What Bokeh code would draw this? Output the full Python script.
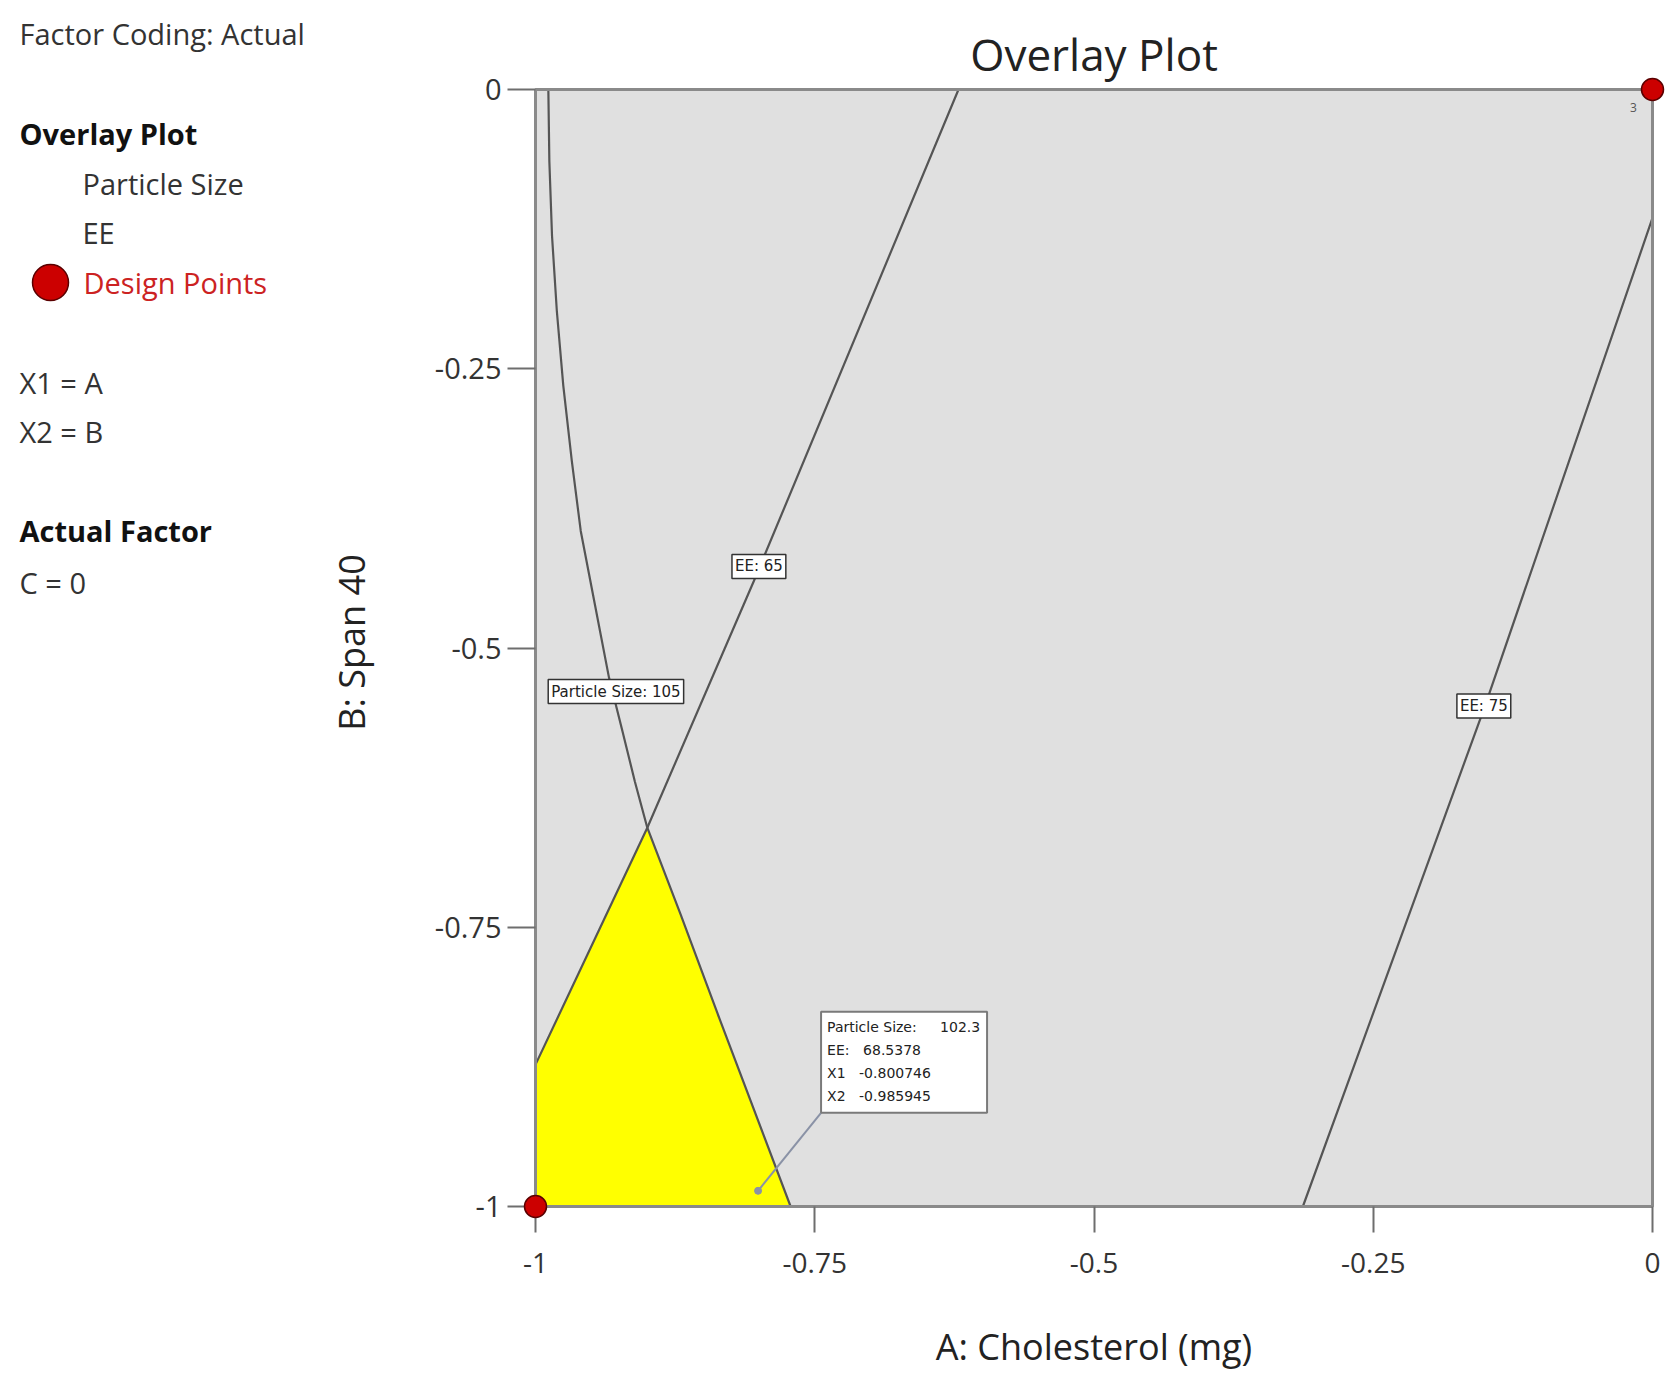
import math
from bokeh.plotting import figure
from bokeh.layouts import row
from bokeh.models import Range1d, FixedTicker, Label
from bokeh.embed import file_html
from bokeh.resources import INLINE
from bokeh.core.properties import value

# ---------------- data ----------------
x_ticks = [-1, -0.75, -0.5, -0.25, 0]
x_tick_labels = ["-1", "-0.75", "-0.5", "-0.25", "0"]
y_ticks = [-1, -0.75, -0.5, -0.25, 0]
y_tick_labels = ["-1", "-0.75", "-0.5", "-0.25", "0"]

# Particle Size = 105 contour (A, B)
ps105_x = [-0.9885, -0.9876, -0.9852, -0.9809, -0.9751, -0.9675, -0.9595, -0.9467,
           -0.9342, -0.9222, -0.9110, -0.8999, -0.8701, -0.8367, -0.7716]
ps105_y = [0.0, -0.0642, -0.1312, -0.1983, -0.2653, -0.3324, -0.3952, -0.4617,
           -0.5265, -0.5743, -0.6197, -0.6609, -0.7385, -0.8281, -1.0]
# EE = 65 contour
ee65_x = [-1.0, -0.8999, -0.8045, -0.6213]
ee65_y = [-0.873, -0.6609, -0.440, 0.0]
# EE = 75 contour
ee75_x = [-0.313, -0.150, 0.0]
ee75_y = [-1.0, -0.552, -0.115]
# index of the PS105 / EE65 crossing in each list
ps_cross = 11
ee_cross = 1

contour_label_x = [-0.928, -0.800, -0.151]
contour_label_y = [-0.539, -0.427, -0.552]
contour_label_text = ["Particle Size: 105", "EE: 65", "EE: 75"]

design_x = [-1.0, 0.0]
design_y = [-1.0, 0.0]
design_run = ["", "3"]

flag_x1 = -0.800746
flag_x2 = -0.985945
flag_ps = 102.3
flag_ee = 68.5378

FONT = "Open Sans"

# ---------------- layout constants (px) ----------------
H = 1388
LW = 380                   # width of left info panel
SC = 1117                  # px per data unit
PAD = 14                   # white strip around the plotting square
TOPX = 79                  # extra frame above the square (title area)
ML, MR, MT = 141, 4, 10
FH = TOPX + SC + PAD       # frame height
MB = H - MT - FH
W2 = ML + MR + SC + 2 * PAD

p = figure(width=W2, height=H,
           x_range=Range1d(x_ticks[0] - PAD / SC, x_ticks[-1] + PAD / SC),
           y_range=Range1d(y_ticks[0] - PAD / SC, y_ticks[-1] + TOPX / SC),
           output_backend="svg", toolbar_location=None,
           min_border_left=ML, min_border_right=MR, min_border_top=MT, min_border_bottom=MB)
p.background_fill_color = "white"
p.border_fill_color = "white"
p.outline_line_color = None
p.grid.visible = False

for ax, ticks, labs, tout in ((p.xaxis, x_ticks, x_tick_labels, 12), (p.yaxis, y_ticks, y_tick_labels, 14)):
    ax.ticker = FixedTicker(ticks=ticks)
    ax.major_label_overrides = {t: s for t, s in zip(ticks, labs)}
    ax.major_tick_out = tout
    ax.major_tick_in = PAD
    ax.minor_tick_line_color = None
    ax.major_tick_line_color = "#6e6e6e"
    ax.major_tick_line_width = 2
    ax.axis_line_color = None
    ax.major_label_text_font = FONT
    ax.major_label_text_font_size = "28px"
    ax.major_label_text_color = "#333333"
    ax.axis_label_text_font = FONT
    ax.axis_label_text_font_size = "36px"
    ax.axis_label_text_font_style = "normal"
    ax.axis_label_text_color = "#222222"

p.yaxis.major_label_text_font_size = "29px"
p.xaxis.axis_label = "A: Cholesterol (mg)"
p.xaxis.major_label_standoff = 20
p.xaxis.axis_label_standoff = 46
p.yaxis.major_label_standoff = 6

# plotting square background
p.quad(left=[x_ticks[0]], right=[x_ticks[-1]], bottom=[y_ticks[0]], top=[y_ticks[-1]],
       fill_color="#e0e0e0", line_color=None)

# feasible (yellow) region
poly_x = [x_ticks[0]] + ee65_x[:ee_cross + 1] + ps105_x[ps_cross:]
poly_y = [y_ticks[0]] + ee65_y[:ee_cross + 1] + ps105_y[ps_cross:]
p.patch(poly_x, poly_y, fill_color="#ffff00", line_color=None)

# contours
for xs, ys in ((ps105_x, ps105_y), (ee65_x, ee65_y), (ee75_x, ee75_y)):
    p.line(xs, ys, line_color="#555555", line_width=2.2)

# frame of the plotting square
p.quad(left=[x_ticks[0]], right=[x_ticks[-1]], bottom=[y_ticks[0]], top=[y_ticks[-1]],
       fill_color=None, line_color="#8a8a8a", line_width=3)

# contour labels
for lx, ly, lt in zip(contour_label_x, contour_label_y, contour_label_text):
    p.add_layout(Label(x=lx, y=ly, text=lt, text_align="center", text_baseline="middle",
                       text_font="DejaVu Sans", text_font_size="15px", text_color="#222222",
                       background_fill_color="white", border_line_color="#333333",
                       border_line_width=1.5, padding=3))

# flag annotation
box_l = flag_x1 + 63 / SC
box_r = flag_x1 + 229 / SC
box_t = flag_x2 + 179 / SC
box_b = flag_x2 + 78 / SC
p.line([flag_x1, box_l], [flag_x2, box_b], line_color="#8a92a6", line_width=2)
p.scatter([flag_x1], [flag_x2], size=7, color="#8a92a6")
p.quad(left=[box_l], right=[box_r], top=[box_t], bottom=[box_b],
       fill_color="white", line_color="#7a7a7a", line_width=2)
flag_names = ["Particle Size:", "EE:", "X1", "X2"]
flag_vals = [f"{flag_ps:g}", f"{flag_ee:g}", f"{flag_x1:g}", f"{flag_x2:g}"]
val_x = [119, 42, 38, 38]
for i, (nm, vv) in enumerate(zip(flag_names, flag_vals)):
    p.text([box_l], [box_t], text=[nm], x_offset=6, y_offset=15 + 23 * i,
           text_font=value("DejaVu Sans"), text_font_size="14px", text_color="#222222",
           text_baseline="middle", text_align="left")
    p.text([box_l], [box_t], text=[vv], x_offset=val_x[i], y_offset=15 + 23 * i,
           text_font=value("DejaVu Sans"), text_font_size="14px", text_color="#222222",
           text_baseline="middle", text_align="left")

# design points
p.scatter(design_x, design_y, size=22, fill_color="#cc0000", line_color="#5a0000",
          line_width=1.5, level="overlay")
p.text(design_x, design_y, text=design_run, x_offset=-19, y_offset=18,
       text_font=value(FONT), text_font_size="12px", text_color="#555555",
       text_align="center", text_baseline="middle")

# title
p.text([(x_ticks[0] + x_ticks[-1]) / 2], [y_ticks[-1] + 36 / SC], text=["Overlay Plot"],
       text_font=value(FONT), text_font_size="44px", text_color="#222222",
       text_align="center", text_baseline="middle")

# ---------------- left info panel ----------------
# (frames of a row are aligned, so this panel's frame spans the same rows as the plot's)
q = figure(width=LW, height=H, x_range=Range1d(0, LW), y_range=Range1d(MT + FH, MT),
           x_axis_type=None, y_axis_type=None, output_backend="svg",
           toolbar_location=None, min_border=0)
q.outline_line_color = None
q.background_fill_color = "white"
q.border_fill_color = "white"
q.grid.visible = False

panel = [
    ("Factor Coding: Actual", 19, 33, "normal", "#333333"),
    ("Overlay Plot", 19, 133, "bold", "#111111"),
    ("Particle Size", 82, 183, "normal", "#333333"),
    ("EE", 82, 232, "normal", "#333333"),
    ("Design Points", 83, 282, "normal", "#cc2222"),
    ("X1 = A", 19, 382, "normal", "#333333"),
    ("X2 = B", 19, 431, "normal", "#333333"),
    ("Actual Factor", 19, 530, "bold", "#111111"),
    ("C = 0", 19, 582, "normal", "#333333"),
]
for txt, px, py, st, col in panel:
    q.text([px], [py], text=[txt], text_font=value(FONT), text_font_size="29px",
           text_font_style=st, text_color=col, text_align="left", text_baseline="middle")
q.scatter([50], [282], size=36, fill_color="#cc0000", line_color="#5a0000", line_width=1.5)

# y axis title of the main plot
q.text([351], [642], text=["B: Span 40"], angle=math.pi / 2, text_font=value(FONT),
       text_font_size="36px", text_color="#222222", text_align="center", text_baseline="middle")

layout = row(q, p)
open("out.html", "w").write(file_html(layout, INLINE))
